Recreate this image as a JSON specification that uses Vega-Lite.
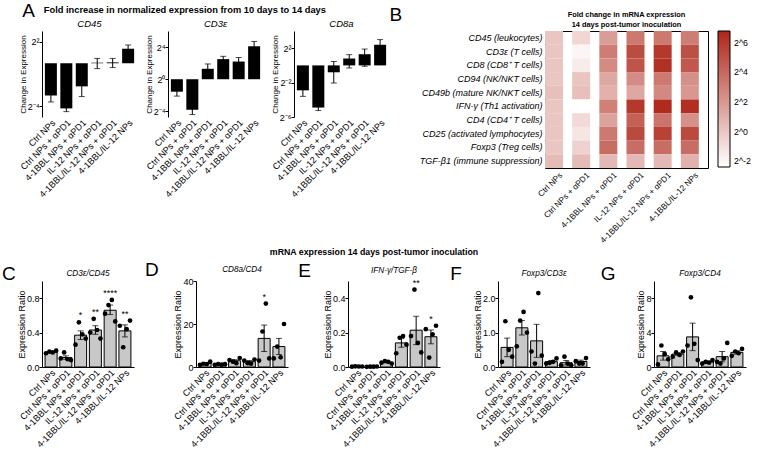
{
  "$schema": "https://vega.github.io/schema/vega-lite/v6.json",
  "padding": {"left": 2, "top": 2, "right": 2, "bottom": 2},
  "background": "white",
  "config": {
    "font": "Liberation Sans",
    "view": {"stroke": null},
    "axis": {"labelFont": "Liberation Sans", "titleFont": "Liberation Sans", "labelFontSize": 9, "titleFontSize": 9, "titleFontWeight": "normal", "labelColor": "#000", "titleColor": "#000", "domainColor": "#000", "tickColor": "#000", "tickSize": 3, "grid": false, "labelOverlap": false, "titlePadding": 0, "labelPadding": 0},
    "legend": {"labelFont": "Liberation Sans", "labelColor": "#000"},
    "title": {"font": "Liberation Sans", "color": "#000", "subtitleColor": "#000"},
    "text": {"color": "#000"}
  },
  "datasets": {
    "foldA": [
      {"gene": "CD45", "g": "Ctrl NPs", "v": -3.0, "lo": -3.6, "hi": -2.4},
      {"gene": "CD45", "g": "Ctrl NPs + αPD1", "v": -4.2, "lo": -4.5, "hi": -3.9},
      {"gene": "CD45", "g": "4-1BBL NPs + αPD1", "v": -2.15, "lo": -3.1, "hi": -1.2},
      {"gene": "CD45", "g": "IL-12 NPs + αPD1", "v": 0.05, "lo": -0.5, "hi": 0.45},
      {"gene": "CD45", "g": "4-1BBL/IL-12 NPs + αPD1", "v": 0.08, "lo": -0.4, "hi": 0.45},
      {"gene": "CD45", "g": "4-1BBL/IL-12 NPs", "v": 1.35, "lo": 1.0, "hi": 1.7},
      {"gene": "CD3e", "g": "Ctrl NPs", "v": -1.55, "lo": -2.1, "hi": -1.0},
      {"gene": "CD3e", "g": "Ctrl NPs + αPD1", "v": -3.8, "lo": -4.4, "hi": -3.2},
      {"gene": "CD3e", "g": "4-1BBL NPs + αPD1", "v": 1.3, "lo": 0.7, "hi": 1.9},
      {"gene": "CD3e", "g": "IL-12 NPs + αPD1", "v": 2.5, "lo": 2.15, "hi": 2.85},
      {"gene": "CD3e", "g": "4-1BBL/IL-12 NPs + αPD1", "v": 2.2, "lo": 1.7, "hi": 2.7},
      {"gene": "CD3e", "g": "4-1BBL/IL-12 NPs", "v": 4.1, "lo": 3.5, "hi": 4.7},
      {"gene": "CD8a", "g": "Ctrl NPs", "v": -2.9, "lo": -3.6, "hi": -2.2},
      {"gene": "CD8a", "g": "Ctrl NPs + αPD1", "v": -4.9, "lo": -5.25, "hi": -4.55},
      {"gene": "CD8a", "g": "4-1BBL NPs + αPD1", "v": -0.8, "lo": -2.05, "hi": 0.45},
      {"gene": "CD8a", "g": "IL-12 NPs + αPD1", "v": 0.8, "lo": -0.3, "hi": 1.25},
      {"gene": "CD8a", "g": "4-1BBL/IL-12 NPs + αPD1", "v": 1.3, "lo": -0.1, "hi": 1.9},
      {"gene": "CD8a", "g": "4-1BBL/IL-12 NPs", "v": 2.4, "lo": 1.8, "hi": 3.0}
    ],
    "heat": [
      {"gene": "CD45 (leukocytes)", "g": "Ctrl NPs", "v": 0},
      {"gene": "CD45 (leukocytes)", "g": "Ctrl NPs + αPD1", "v": -0.7},
      {"gene": "CD45 (leukocytes)", "g": "4-1BBL NPs + αPD1", "v": 1.8},
      {"gene": "CD45 (leukocytes)", "g": "IL-12 NPs + αPD1", "v": 3.3},
      {"gene": "CD45 (leukocytes)", "g": "4-1BBL/IL-12 NPs + αPD1", "v": 3.3},
      {"gene": "CD45 (leukocytes)", "g": "4-1BBL/IL-12 NPs", "v": 3.1},
      {"gene": "CD3ε (T cells)", "g": "Ctrl NPs", "v": 0},
      {"gene": "CD3ε (T cells)", "g": "Ctrl NPs + αPD1", "v": -2.0},
      {"gene": "CD3ε (T cells)", "g": "4-1BBL NPs + αPD1", "v": 3.1},
      {"gene": "CD3ε (T cells)", "g": "IL-12 NPs + αPD1", "v": 5.2},
      {"gene": "CD3ε (T cells)", "g": "4-1BBL/IL-12 NPs + αPD1", "v": 6.0},
      {"gene": "CD3ε (T cells)", "g": "4-1BBL/IL-12 NPs", "v": 5.0},
      {"gene": "CD8 (CD8⁺ T cells)", "g": "Ctrl NPs", "v": 0},
      {"gene": "CD8 (CD8⁺ T cells)", "g": "Ctrl NPs + αPD1", "v": -1.6},
      {"gene": "CD8 (CD8⁺ T cells)", "g": "4-1BBL NPs + αPD1", "v": 2.5},
      {"gene": "CD8 (CD8⁺ T cells)", "g": "IL-12 NPs + αPD1", "v": 4.8},
      {"gene": "CD8 (CD8⁺ T cells)", "g": "4-1BBL/IL-12 NPs + αPD1", "v": 6.3},
      {"gene": "CD8 (CD8⁺ T cells)", "g": "4-1BBL/IL-12 NPs", "v": 4.7},
      {"gene": "CD94 (NK/NKT cells)", "g": "Ctrl NPs", "v": 0},
      {"gene": "CD94 (NK/NKT cells)", "g": "Ctrl NPs + αPD1", "v": 0.1},
      {"gene": "CD94 (NK/NKT cells)", "g": "4-1BBL NPs + αPD1", "v": 1.3},
      {"gene": "CD94 (NK/NKT cells)", "g": "IL-12 NPs + αPD1", "v": 2.5},
      {"gene": "CD94 (NK/NKT cells)", "g": "4-1BBL/IL-12 NPs + αPD1", "v": 3.3},
      {"gene": "CD94 (NK/NKT cells)", "g": "4-1BBL/IL-12 NPs", "v": 2.3},
      {"gene": "CD49b (mature NK/NKT cells)", "g": "Ctrl NPs", "v": 0.3},
      {"gene": "CD49b (mature NK/NKT cells)", "g": "Ctrl NPs + αPD1", "v": 0.3},
      {"gene": "CD49b (mature NK/NKT cells)", "g": "4-1BBL NPs + αPD1", "v": 0.9},
      {"gene": "CD49b (mature NK/NKT cells)", "g": "IL-12 NPs + αPD1", "v": 1.3},
      {"gene": "CD49b (mature NK/NKT cells)", "g": "4-1BBL/IL-12 NPs + αPD1", "v": 2.6},
      {"gene": "CD49b (mature NK/NKT cells)", "g": "4-1BBL/IL-12 NPs", "v": 2.0},
      {"gene": "IFN-γ (Th1 activation)", "g": "Ctrl NPs", "v": 0},
      {"gene": "IFN-γ (Th1 activation)", "g": "Ctrl NPs + αPD1", "v": -2.4},
      {"gene": "IFN-γ (Th1 activation)", "g": "4-1BBL NPs + αPD1", "v": 3.0},
      {"gene": "IFN-γ (Th1 activation)", "g": "IL-12 NPs + αPD1", "v": 6.0},
      {"gene": "IFN-γ (Th1 activation)", "g": "4-1BBL/IL-12 NPs + αPD1", "v": 6.6},
      {"gene": "IFN-γ (Th1 activation)", "g": "4-1BBL/IL-12 NPs", "v": 6.4},
      {"gene": "CD4 (CD4⁺ T cells)", "g": "Ctrl NPs", "v": 0},
      {"gene": "CD4 (CD4⁺ T cells)", "g": "Ctrl NPs + αPD1", "v": -0.8},
      {"gene": "CD4 (CD4⁺ T cells)", "g": "4-1BBL NPs + αPD1", "v": 1.5},
      {"gene": "CD4 (CD4⁺ T cells)", "g": "IL-12 NPs + αPD1", "v": 4.3},
      {"gene": "CD4 (CD4⁺ T cells)", "g": "4-1BBL/IL-12 NPs + αPD1", "v": 3.5},
      {"gene": "CD4 (CD4⁺ T cells)", "g": "4-1BBL/IL-12 NPs", "v": 2.3},
      {"gene": "CD25 (activated lymphocytes)", "g": "Ctrl NPs", "v": 0},
      {"gene": "CD25 (activated lymphocytes)", "g": "Ctrl NPs + αPD1", "v": -1.3},
      {"gene": "CD25 (activated lymphocytes)", "g": "4-1BBL NPs + αPD1", "v": 3.3},
      {"gene": "CD25 (activated lymphocytes)", "g": "IL-12 NPs + αPD1", "v": 5.3},
      {"gene": "CD25 (activated lymphocytes)", "g": "4-1BBL/IL-12 NPs + αPD1", "v": 5.6},
      {"gene": "CD25 (activated lymphocytes)", "g": "4-1BBL/IL-12 NPs", "v": 5.3},
      {"gene": "Foxp3 (Treg cells)", "g": "Ctrl NPs", "v": 0},
      {"gene": "Foxp3 (Treg cells)", "g": "Ctrl NPs + αPD1", "v": -0.5},
      {"gene": "Foxp3 (Treg cells)", "g": "4-1BBL NPs + αPD1", "v": 3.8},
      {"gene": "Foxp3 (Treg cells)", "g": "IL-12 NPs + αPD1", "v": 3.8},
      {"gene": "Foxp3 (Treg cells)", "g": "4-1BBL/IL-12 NPs + αPD1", "v": 3.8},
      {"gene": "Foxp3 (Treg cells)", "g": "4-1BBL/IL-12 NPs", "v": 3.8},
      {"gene": "TGF-β1 (immune suppression)", "g": "Ctrl NPs", "v": 0.5},
      {"gene": "TGF-β1 (immune suppression)", "g": "Ctrl NPs + αPD1", "v": 0.5},
      {"gene": "TGF-β1 (immune suppression)", "g": "4-1BBL NPs + αPD1", "v": 0.6},
      {"gene": "TGF-β1 (immune suppression)", "g": "IL-12 NPs + αPD1", "v": 0.6},
      {"gene": "TGF-β1 (immune suppression)", "g": "4-1BBL/IL-12 NPs + αPD1", "v": 0.6},
      {"gene": "TGF-β1 (immune suppression)", "g": "4-1BBL/IL-12 NPs", "v": 0.9}
    ],
    "ratios": [
      {"p": "C", "g": "Ctrl NPs", "m": 0.17, "lo": 0.16, "hi": 0.18, "s": "", "pts": [0.16, 0.18, 0.17, 0.19], "rep": [1, 2, 3, 4]},
      {"p": "C", "g": "Ctrl NPs + αPD1", "m": 0.11, "lo": 0.09, "hi": 0.13, "s": "", "pts": [0.1, 0.17, 0.09, 0.08], "rep": [1, 2, 3, 4]},
      {"p": "C", "g": "4-1BBL NPs + αPD1", "m": 0.37, "lo": 0.32, "hi": 0.42, "s": "*", "pts": [0.26, 0.52, 0.38, 0.33], "rep": [1, 2, 3, 4]},
      {"p": "C", "g": "IL-12 NPs + αPD1", "m": 0.43, "lo": 0.38, "hi": 0.48, "s": "**", "pts": [0.4, 0.56, 0.43, 0.33], "rep": [1, 2, 3, 4]},
      {"p": "C", "g": "4-1BBL/IL-12 NPs + αPD1", "m": 0.66, "lo": 0.61, "hi": 0.72, "s": "****", "pts": [0.62, 0.72, 0.78, 0.53], "rep": [1, 2, 3, 4]},
      {"p": "C", "g": "4-1BBL/IL-12 NPs", "m": 0.42, "lo": 0.35, "hi": 0.49, "s": "**", "pts": [0.48, 0.23, 0.44, 0.54], "rep": [1, 2, 3, 4]},
      {"p": "D", "g": "Ctrl NPs", "m": 1.6, "lo": 1.2, "hi": 2.0, "s": "", "pts": [1.0, 1.5, 1.4, 2.5], "rep": [1, 2, 3, 4]},
      {"p": "D", "g": "Ctrl NPs + αPD1", "m": 1.2, "lo": 1.0, "hi": 1.4, "s": "", "pts": [1.0, 1.4, 1.1, 1.3], "rep": [1, 2, 3, 4]},
      {"p": "D", "g": "4-1BBL NPs + αPD1", "m": 2.9, "lo": 2.4, "hi": 3.4, "s": "", "pts": [3.2, 2.5, 1.8, 4.2], "rep": [1, 2, 3, 4]},
      {"p": "D", "g": "IL-12 NPs + αPD1", "m": 2.45, "lo": 1.9, "hi": 3.0, "s": "", "pts": [3.0, 1.8, 1.5, 3.5], "rep": [1, 2, 3, 4]},
      {"p": "D", "g": "4-1BBL/IL-12 NPs + αPD1", "m": 13.3, "lo": 7.2, "hi": 19.5, "s": "*", "pts": [3.0, 16.5, 29.5, 4.0], "rep": [1, 2, 3, 4]},
      {"p": "D", "g": "4-1BBL/IL-12 NPs", "m": 9.5, "lo": 5.8, "hi": 13.3, "s": "", "pts": [4.0, 9.5, 4.5, 20.0], "rep": [1, 2, 3, 4]},
      {"p": "E", "g": "Ctrl NPs", "m": 0.003, "lo": 0.002, "hi": 0.004, "s": "", "pts": [0.002, 0.004, 0.003, 0.003], "rep": [1, 2, 3, 4]},
      {"p": "E", "g": "Ctrl NPs + αPD1", "m": 0.002, "lo": 0.0015, "hi": 0.0025, "s": "", "pts": [0.001, 0.002, 0.002, 0.003], "rep": [1, 2, 3, 4]},
      {"p": "E", "g": "4-1BBL NPs + αPD1", "m": 0.0275, "lo": 0.024, "hi": 0.031, "s": "", "pts": [0.025, 0.035, 0.03, 0.02], "rep": [1, 2, 3, 4]},
      {"p": "E", "g": "IL-12 NPs + αPD1", "m": 0.14, "lo": 0.115, "hi": 0.165, "s": "", "pts": [0.08, 0.17, 0.18, 0.13], "rep": [1, 2, 3, 4]},
      {"p": "E", "g": "4-1BBL/IL-12 NPs + αPD1", "m": 0.214, "lo": 0.13, "hi": 0.295, "s": "**", "pts": [0.18, 0.45, 0.14, 0.085], "rep": [1, 2, 3, 4]},
      {"p": "E", "g": "4-1BBL/IL-12 NPs", "m": 0.176, "lo": 0.135, "hi": 0.215, "s": "*", "pts": [0.22, 0.055, 0.19, 0.24], "rep": [1, 2, 3, 4]},
      {"p": "F", "g": "Ctrl NPs", "m": 0.57, "lo": 0.3, "hi": 0.84, "s": "", "pts": [0.15, 1.33, 0.5, 0.3], "rep": [1, 2, 3, 4]},
      {"p": "F", "g": "Ctrl NPs + αPD1", "m": 1.14, "lo": 0.93, "hi": 1.35, "s": "", "pts": [0.6, 1.35, 1.6, 1.0], "rep": [1, 2, 3, 4]},
      {"p": "F", "g": "4-1BBL NPs + αPD1", "m": 0.76, "lo": 0.28, "hi": 1.24, "s": "", "pts": [0.45, 0.1, 2.15, 0.33], "rep": [1, 2, 3, 4]},
      {"p": "F", "g": "IL-12 NPs + αPD1", "m": 0.155, "lo": 0.12, "hi": 0.19, "s": "", "pts": [0.1, 0.12, 0.15, 0.25], "rep": [1, 2, 3, 4]},
      {"p": "F", "g": "4-1BBL/IL-12 NPs + αPD1", "m": 0.125, "lo": 0.06, "hi": 0.19, "s": "", "pts": [0.05, 0.3, 0.1, 0.05], "rep": [1, 2, 3, 4]},
      {"p": "F", "g": "4-1BBL/IL-12 NPs", "m": 0.16, "lo": 0.12, "hi": 0.2, "s": "", "pts": [0.17, 0.1, 0.1, 0.26], "rep": [1, 2, 3, 4]},
      {"p": "G", "g": "Ctrl NPs", "m": 1.3, "lo": 0.8, "hi": 1.8, "s": "", "pts": [0.3, 2.5, 1.5, 0.9], "rep": [1, 2, 3, 4]},
      {"p": "G", "g": "Ctrl NPs + αPD1", "m": 1.5, "lo": 1.35, "hi": 1.65, "s": "", "pts": [1.2, 1.7, 1.4, 1.8], "rep": [1, 2, 3, 4]},
      {"p": "G", "g": "4-1BBL NPs + αPD1", "m": 3.5, "lo": 1.9, "hi": 5.1, "s": "", "pts": [2.5, 8.1, 2.7, 0.8], "rep": [1, 2, 3, 4]},
      {"p": "G", "g": "IL-12 NPs + αPD1", "m": 0.58, "lo": 0.48, "hi": 0.68, "s": "", "pts": [0.4, 0.6, 0.5, 0.8], "rep": [1, 2, 3, 4]},
      {"p": "G", "g": "4-1BBL/IL-12 NPs + αPD1", "m": 1.2, "lo": 0.6, "hi": 1.8, "s": "", "pts": [0.6, 0.4, 1.0, 2.8], "rep": [1, 2, 3, 4]},
      {"p": "G", "g": "4-1BBL/IL-12 NPs", "m": 1.7, "lo": 1.5, "hi": 1.9, "s": "", "pts": [1.3, 1.8, 1.6, 2.1], "rep": [1, 2, 3, 4]}
    ]
  },
  "spacing": 3,
  "resolve": {"scale": {"color": "independent"}, "legend": {"color": "independent"}},
  "vconcat": [
    {
      "spacing": 0,
      "resolve": {"scale": {"color": "independent"}, "legend": {"color": "independent"}},
      "hconcat": [
        {
          "title": {"text": "A", "orient": "left", "anchor": "end", "angle": 0, "align": "left", "baseline": "top", "fontSize": 19, "fontWeight": "normal", "offset": -16, "dy": -4},
          "vconcat": [
            {
              "title": {"text": "Fold increase in normalized expression from 10 days to 14 days", "anchor": "start", "dx": 25, "fontWeight": "bold", "fontSize": 9.3, "offset": 3},
              "spacing": 7,
              "hconcat": [
                {
                  "title": {"text": "CD45", "fontStyle": "italic", "fontWeight": "normal", "fontSize": 9.5, "offset": 3, "frame": "group"},
                  "width": 95, "height": 86,
                  "data": {"name": "foldA"},
                  "transform": [{"filter": "datum.gene == 'CD45'"}],
                  "encoding": {"x": {"field": "g", "type": "nominal", "sort": ["Ctrl NPs", "Ctrl NPs + αPD1", "4-1BBL NPs + αPD1", "IL-12 NPs + αPD1", "4-1BBL/IL-12 NPs + αPD1", "4-1BBL/IL-12 NPs"], "scale": {"type": "band", "paddingInner": 0.25, "paddingOuter": 0.2}, "axis": {"title": null, "labelAngle": -45, "domain": false, "ticks": false, "labelPadding": 1}}},
                  "layer": [
                    {"mark": {"type": "errorbar", "ticks": {"size": 6}, "color": "black"}, "encoding": {"y": {"field": "lo", "type": "quantitative", "title": "Change in Expression", "scale": {"domain": [-5, 3], "nice": false}, "axis": {"values": [-4, -2, 0, 2], "titleFontSize": 8, "labelExpr": "datum.value == 2 ? '2²' : datum.value == 0 ? '2⁰' : datum.value == -2 ? '2⁻²' : '2⁻⁴'"}}, "y2": {"field": "hi"}}},
                    {"mark": {"type": "bar", "color": "black", "width": 12}, "encoding": {"y": {"field": "v", "type": "quantitative", "title": "Change in Expression"}}},
                    {"mark": {"type": "rule", "color": "black"}, "encoding": {"y": {"datum": 0}}}
                  ]
                },
                {
                  "title": {"text": "CD3ε", "fontStyle": "italic", "fontWeight": "normal", "fontSize": 9.5, "offset": 3, "frame": "group"},
                  "width": 95, "height": 86,
                  "data": {"name": "foldA"},
                  "transform": [{"filter": "datum.gene == 'CD3e'"}],
                  "encoding": {"x": {"field": "g", "type": "nominal", "sort": ["Ctrl NPs", "Ctrl NPs + αPD1", "4-1BBL NPs + αPD1", "IL-12 NPs + αPD1", "4-1BBL/IL-12 NPs + αPD1", "4-1BBL/IL-12 NPs"], "scale": {"type": "band", "paddingInner": 0.25, "paddingOuter": 0.2}, "axis": {"title": null, "labelAngle": -45, "domain": false, "ticks": false, "labelPadding": 1}}},
                  "layer": [
                    {"mark": {"type": "errorbar", "ticks": {"size": 6}, "color": "black"}, "encoding": {"y": {"field": "lo", "type": "quantitative", "title": "Change in Expression", "scale": {"domain": [-4.7, 6], "nice": false}, "axis": {"values": [-4, -2, 0, 2, 4, 6], "titleFontSize": 8, "labelExpr": "datum.value == 6 ? '2⁶' : datum.value == 4 ? '2⁴' : datum.value == 2 ? '2²' : datum.value == 0 ? '2⁰' : datum.value == -2 ? '2⁻²' : '2⁻⁴'"}}, "y2": {"field": "hi"}}},
                    {"mark": {"type": "bar", "color": "black", "width": 12}, "encoding": {"y": {"field": "v", "type": "quantitative", "title": "Change in Expression"}}},
                    {"mark": {"type": "rule", "color": "black"}, "encoding": {"y": {"datum": 0}}}
                  ]
                },
                {
                  "title": {"text": "CD8a", "fontStyle": "italic", "fontWeight": "normal", "fontSize": 9.5, "offset": 3, "frame": "group"},
                  "width": 95, "height": 86,
                  "data": {"name": "foldA"},
                  "transform": [{"filter": "datum.gene == 'CD8a'"}],
                  "encoding": {"x": {"field": "g", "type": "nominal", "sort": ["Ctrl NPs", "Ctrl NPs + αPD1", "4-1BBL NPs + αPD1", "IL-12 NPs + αPD1", "4-1BBL/IL-12 NPs + αPD1", "4-1BBL/IL-12 NPs"], "scale": {"type": "band", "paddingInner": 0.25, "paddingOuter": 0.2}, "axis": {"title": null, "labelAngle": -45, "domain": false, "ticks": false, "labelPadding": 1}}},
                  "layer": [
                    {"mark": {"type": "errorbar", "ticks": {"size": 6}, "color": "black"}, "encoding": {"y": {"field": "lo", "type": "quantitative", "title": "Change in Expression", "scale": {"domain": [-6, 4], "nice": false}, "axis": {"values": [-6, -4, -2, 0, 2, 4], "titleFontSize": 8, "labelExpr": "datum.value == 4 ? '2⁴' : datum.value == 2 ? '2²' : datum.value == 0 ? '2⁰' : datum.value == -2 ? '2⁻²' : datum.value == -4 ? '2⁻⁴' : '2⁻⁶'"}}, "y2": {"field": "hi"}}},
                    {"mark": {"type": "bar", "color": "black", "width": 12}, "encoding": {"y": {"field": "v", "type": "quantitative", "title": "Change in Expression"}}},
                    {"mark": {"type": "rule", "color": "black"}, "encoding": {"y": {"datum": 0}}}
                  ]
                }
              ]
            }
          ]
        },
        {
          "title": {"text": "B", "orient": "left", "anchor": "end", "angle": 0, "align": "right", "baseline": "top", "fontSize": 19, "fontWeight": "normal", "offset": 4, "dy": -4},
          "resolve": {"scale": {"color": "independent"}, "legend": {"color": "independent"}},
          "vconcat": [
            {
              "title": {"text": ["Fold change in mRNA expression", "14 days post-tumor inoculation"], "fontWeight": "bold", "fontSize": 7.4, "lineHeight": 10, "offset": 3, "frame": "group"},
              "width": 163, "height": 137,
              "view": {"stroke": "black", "strokeWidth": 1},
              "data": {"name": "heat"},
              "mark": {"type": "rect"},
              "encoding": {
                "x": {"field": "g", "type": "nominal", "sort": ["Ctrl NPs", "Ctrl NPs + αPD1", "4-1BBL NPs + αPD1", "IL-12 NPs + αPD1", "4-1BBL/IL-12 NPs + αPD1", "4-1BBL/IL-12 NPs"], "axis": {"title": null, "labelAngle": -45, "domain": false, "ticks": false, "labelPadding": 3, "labelFontSize": 8.2}},
                "y": {"field": "gene", "type": "nominal", "sort": ["CD45 (leukocytes)", "CD3ε (T cells)", "CD8 (CD8⁺ T cells)", "CD94 (NK/NKT cells)", "CD49b (mature NK/NKT cells)", "IFN-γ (Th1 activation)", "CD4 (CD4⁺ T cells)", "CD25 (activated lymphocytes)", "Foxp3 (Treg cells)", "TGF-β1 (immune suppression)"], "axis": {"title": null, "domain": false, "ticks": false, "labelFontStyle": "italic", "labelFontSize": 9, "labelPadding": 3}},
                "color": {"field": "v", "type": "quantitative", "scale": {"domain": [-2.4, 6.8], "range": ["#ffffff", "#ad2618"], "interpolate": "rgb"}, "legend": {"title": null, "values": [6, 4, 2, 0, -2], "labelExpr": "'2^' + datum.value", "gradientLength": 136, "gradientThickness": 12, "gradientStrokeColor": "black", "gradientStrokeWidth": 1, "labelFontSize": 8.8, "offset": 10, "labelOffset": 4, "padding": 0}}
              }
            }
          ]
        }
      ]
    },
    {
      "title": {"text": "mRNA expression 14 days post-tumor inoculation", "anchor": "middle", "fontWeight": "bold", "fontSize": 8.8, "offset": 4},
      "spacing": 10,
      "hconcat": [
        {
          "title": {"text": "C", "orient": "left", "anchor": "end", "angle": 0, "align": "right", "baseline": "top", "fontSize": 19, "fontWeight": "normal", "offset": -12, "dy": -4},
          "vconcat": [{
            "title": {"text": "CD3ε/CD45", "fontStyle": "italic", "fontWeight": "normal", "fontSize": 8.2, "offset": 3, "frame": "group"},
            "width": 92, "height": 86,
            "data": {"name": "ratios"},
            "transform": [{"filter": "datum.p == 'C'"}],
            "encoding": {"x": {"field": "g", "type": "nominal", "sort": ["Ctrl NPs", "Ctrl NPs + αPD1", "4-1BBL NPs + αPD1", "IL-12 NPs + αPD1", "4-1BBL/IL-12 NPs + αPD1", "4-1BBL/IL-12 NPs"], "scale": {"type": "band", "paddingInner": 0.17, "paddingOuter": 0.2}, "axis": {"title": null, "labelAngle": -45, "ticks": false, "labelPadding": 1}}},
            "layer": [
              {"mark": {"type": "bar", "fill": "#c8c8c8", "stroke": "black", "strokeWidth": 1, "width": 12}, "encoding": {"y": {"field": "m", "type": "quantitative", "title": "Expression Ratio", "scale": {"domain": [0, 1], "nice": false}, "axis": {"values": [0, 0.2, 0.4, 0.6, 0.8, 1], "format": ".1f"}}}},
              {"mark": {"type": "errorbar", "ticks": {"size": 6}, "color": "black"}, "encoding": {"y": {"field": "lo", "type": "quantitative", "title": "Expression Ratio"}, "y2": {"field": "hi"}}},
              {"transform": [{"flatten": ["pts", "rep"]}], "mark": {"type": "circle", "color": "black", "opacity": 1, "size": 22}, "encoding": {"y": {"field": "pts", "type": "quantitative", "title": "Expression Ratio"}, "xOffset": {"field": "rep", "type": "nominal", "scale": {"paddingOuter": 0.3}}}},
              {"transform": [{"flatten": ["pts"]}], "mark": {"type": "text", "baseline": "bottom", "dy": -2, "fontSize": 9, "color": "black"}, "encoding": {"y": {"aggregate": "max", "field": "pts", "type": "quantitative", "title": "Expression Ratio"}, "text": {"field": "s"}}}
            ]
          }]
        },
        {
          "title": {"text": "D", "orient": "left", "anchor": "end", "angle": 0, "align": "right", "baseline": "top", "fontSize": 19, "fontWeight": "normal", "offset": 0, "dy": -4},
          "vconcat": [{
            "title": {"text": "CD8a/CD4", "fontStyle": "italic", "fontWeight": "normal", "fontSize": 8.2, "offset": 3, "frame": "group"},
            "width": 92, "height": 86,
            "data": {"name": "ratios"},
            "transform": [{"filter": "datum.p == 'D'"}],
            "encoding": {"x": {"field": "g", "type": "nominal", "sort": ["Ctrl NPs", "Ctrl NPs + αPD1", "4-1BBL NPs + αPD1", "IL-12 NPs + αPD1", "4-1BBL/IL-12 NPs + αPD1", "4-1BBL/IL-12 NPs"], "scale": {"type": "band", "paddingInner": 0.17, "paddingOuter": 0.2}, "axis": {"title": null, "labelAngle": -45, "ticks": false, "labelPadding": 1}}},
            "layer": [
              {"mark": {"type": "bar", "fill": "#c8c8c8", "stroke": "black", "strokeWidth": 1, "width": 12}, "encoding": {"y": {"field": "m", "type": "quantitative", "title": "Expression Ratio", "scale": {"domain": [0, 40], "nice": false}, "axis": {"values": [0, 10, 20, 30, 40], "format": "d"}}}},
              {"mark": {"type": "errorbar", "ticks": {"size": 6}, "color": "black"}, "encoding": {"y": {"field": "lo", "type": "quantitative", "title": "Expression Ratio"}, "y2": {"field": "hi"}}},
              {"transform": [{"flatten": ["pts", "rep"]}], "mark": {"type": "circle", "color": "black", "opacity": 1, "size": 22}, "encoding": {"y": {"field": "pts", "type": "quantitative", "title": "Expression Ratio"}, "xOffset": {"field": "rep", "type": "nominal", "scale": {"paddingOuter": 0.3}}}},
              {"transform": [{"flatten": ["pts"]}], "mark": {"type": "text", "baseline": "bottom", "dy": -2, "fontSize": 9, "color": "black"}, "encoding": {"y": {"aggregate": "max", "field": "pts", "type": "quantitative", "title": "Expression Ratio"}, "text": {"field": "s"}}}
            ]
          }]
        },
        {
          "title": {"text": "E", "orient": "left", "anchor": "end", "angle": 0, "align": "right", "baseline": "top", "fontSize": 19, "fontWeight": "normal", "offset": 0, "dy": -4},
          "vconcat": [{
            "title": {"text": "IFN-γ/TGF-β", "fontStyle": "italic", "fontWeight": "normal", "fontSize": 8.2, "offset": 3, "frame": "group"},
            "width": 92, "height": 86,
            "data": {"name": "ratios"},
            "transform": [{"filter": "datum.p == 'E'"}],
            "encoding": {"x": {"field": "g", "type": "nominal", "sort": ["Ctrl NPs", "Ctrl NPs + αPD1", "4-1BBL NPs + αPD1", "IL-12 NPs + αPD1", "4-1BBL/IL-12 NPs + αPD1", "4-1BBL/IL-12 NPs"], "scale": {"type": "band", "paddingInner": 0.17, "paddingOuter": 0.2}, "axis": {"title": null, "labelAngle": -45, "ticks": false, "labelPadding": 1}}},
            "layer": [
              {"mark": {"type": "bar", "fill": "#c8c8c8", "stroke": "black", "strokeWidth": 1, "width": 12}, "encoding": {"y": {"field": "m", "type": "quantitative", "title": "Expression Ratio", "scale": {"domain": [0, 0.5], "nice": false}, "axis": {"values": [0, 0.1, 0.2, 0.3, 0.4, 0.5], "format": ".1f"}}}},
              {"mark": {"type": "errorbar", "ticks": {"size": 6}, "color": "black"}, "encoding": {"y": {"field": "lo", "type": "quantitative", "title": "Expression Ratio"}, "y2": {"field": "hi"}}},
              {"transform": [{"flatten": ["pts", "rep"]}], "mark": {"type": "circle", "color": "black", "opacity": 1, "size": 22}, "encoding": {"y": {"field": "pts", "type": "quantitative", "title": "Expression Ratio"}, "xOffset": {"field": "rep", "type": "nominal", "scale": {"paddingOuter": 0.3}}}},
              {"transform": [{"flatten": ["pts"]}], "mark": {"type": "text", "baseline": "bottom", "dy": -2, "fontSize": 9, "color": "black"}, "encoding": {"y": {"aggregate": "max", "field": "pts", "type": "quantitative", "title": "Expression Ratio"}, "text": {"field": "s"}}}
            ]
          }]
        },
        {
          "title": {"text": "F", "orient": "left", "anchor": "end", "angle": 0, "align": "right", "baseline": "top", "fontSize": 19, "fontWeight": "normal", "offset": 0, "dy": -4},
          "vconcat": [{
            "title": {"text": "Foxp3/CD3ε", "fontStyle": "italic", "fontWeight": "normal", "fontSize": 8.2, "offset": 3, "frame": "group"},
            "width": 92, "height": 86,
            "data": {"name": "ratios"},
            "transform": [{"filter": "datum.p == 'F'"}],
            "encoding": {"x": {"field": "g", "type": "nominal", "sort": ["Ctrl NPs", "Ctrl NPs + αPD1", "4-1BBL NPs + αPD1", "IL-12 NPs + αPD1", "4-1BBL/IL-12 NPs + αPD1", "4-1BBL/IL-12 NPs"], "scale": {"type": "band", "paddingInner": 0.17, "paddingOuter": 0.2}, "axis": {"title": null, "labelAngle": -45, "ticks": false, "labelPadding": 1}}},
            "layer": [
              {"mark": {"type": "bar", "fill": "#c8c8c8", "stroke": "black", "strokeWidth": 1, "width": 12}, "encoding": {"y": {"field": "m", "type": "quantitative", "title": "Expression Ratio", "scale": {"domain": [0, 2.5], "nice": false}, "axis": {"values": [0, 0.5, 1, 1.5, 2, 2.5], "format": ".1f"}}}},
              {"mark": {"type": "errorbar", "ticks": {"size": 6}, "color": "black"}, "encoding": {"y": {"field": "lo", "type": "quantitative", "title": "Expression Ratio"}, "y2": {"field": "hi"}}},
              {"transform": [{"flatten": ["pts", "rep"]}], "mark": {"type": "circle", "color": "black", "opacity": 1, "size": 22}, "encoding": {"y": {"field": "pts", "type": "quantitative", "title": "Expression Ratio"}, "xOffset": {"field": "rep", "type": "nominal", "scale": {"paddingOuter": 0.3}}}}
            ]
          }]
        },
        {
          "title": {"text": "G", "orient": "left", "anchor": "end", "angle": 0, "align": "right", "baseline": "top", "fontSize": 19, "fontWeight": "normal", "offset": 0, "dy": -4},
          "vconcat": [{
            "title": {"text": "Foxp3/CD4", "fontStyle": "italic", "fontWeight": "normal", "fontSize": 8.2, "offset": 3, "frame": "group"},
            "width": 92, "height": 86,
            "data": {"name": "ratios"},
            "transform": [{"filter": "datum.p == 'G'"}],
            "encoding": {"x": {"field": "g", "type": "nominal", "sort": ["Ctrl NPs", "Ctrl NPs + αPD1", "4-1BBL NPs + αPD1", "IL-12 NPs + αPD1", "4-1BBL/IL-12 NPs + αPD1", "4-1BBL/IL-12 NPs"], "scale": {"type": "band", "paddingInner": 0.17, "paddingOuter": 0.2}, "axis": {"title": null, "labelAngle": -45, "ticks": false, "labelPadding": 1}}},
            "layer": [
              {"mark": {"type": "bar", "fill": "#c8c8c8", "stroke": "black", "strokeWidth": 1, "width": 12}, "encoding": {"y": {"field": "m", "type": "quantitative", "title": "Expression Ratio", "scale": {"domain": [0, 10], "nice": false}, "axis": {"values": [0, 2, 4, 6, 8, 10], "format": "d"}}}},
              {"mark": {"type": "errorbar", "ticks": {"size": 6}, "color": "black"}, "encoding": {"y": {"field": "lo", "type": "quantitative", "title": "Expression Ratio"}, "y2": {"field": "hi"}}},
              {"transform": [{"flatten": ["pts", "rep"]}], "mark": {"type": "circle", "color": "black", "opacity": 1, "size": 22}, "encoding": {"y": {"field": "pts", "type": "quantitative", "title": "Expression Ratio"}, "xOffset": {"field": "rep", "type": "nominal", "scale": {"paddingOuter": 0.3}}}}
            ]
          }]
        }
      ]
    }
  ]
}
